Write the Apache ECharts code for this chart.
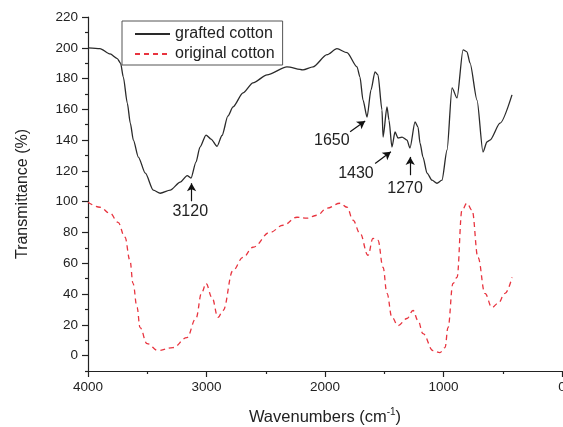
<!DOCTYPE html>
<html>
<head>
<meta charset="utf-8">
<script src="https://cdn.jsdelivr.net/npm/echarts@6/dist/echarts.min.js"></script>
<style>
html,body{margin:0;padding:0;background:#fff;}
#chart{width:563px;height:427px;}
</style>
</head>
<body>
<div id="chart"></div>
<script>
// ---- data ----
var seriesNames = ['grafted cotton', 'original cotton'];

var graftedWn = [4000,3899,3814,3753,3725,3702,3668,3643,3617,3575,3516,3449,3390,3306,3222,3163,3131,3089,3055,3004,2962,2911,2869,2819,2776,2692,2608,2489,2321,2186,2101,1983,1899,1814,1730,1705,1679,1645,1612,1578,1553,1519,1510,1477,1460,1435,1409,1384,1350,1308,1283,1240,1215,1198,1173,1139,1097,1055,1013,970,928,886,835,802,776,717,667,633,608,523,422];
var graftedT  = [200,199.5,196,193,190,181,164,151,140,129,118.5,107.5,105.5,107.5,112.7,117,115.3,125.7,135.5,143.3,140.7,136,143,155.7,161.6,170.7,177.2,182.4,187.6,185.7,187.6,195.5,199.4,196.8,187.6,181,166,155,172.6,184.4,182.4,159.6,142,161.6,153,135.5,145.3,141.4,142,140,134.9,151.8,148.5,138,129,118.6,114,112,114,133.6,174,167.4,198.7,197.4,190,166,132.3,138.8,140,151,169.4];

var originalWn = [4000,3899,3814,3747,3688,3646,3620,3586,3561,3502,3409,3283,3165,3090,3040,3004,2954,2903,2861,2776,2692,2608,2464,2354,2236,2152,2067,1983,1873,1814,1764,1705,1637,1595,1553,1510,1477,1435,1384,1308,1257,1215,1173,1089,1030,987,962,920,886,844,802,759,709,650,591,540,481,422];
var originalT  = [99.7,96.4,92.5,86.6,76.9,61.9,46.9,31.3,18.2,7.8,3.3,5.2,11.7,24,41,46.9,37.8,24.8,29.3,55.4,63.8,70.4,80.1,84.7,89.9,89.3,91.2,95.8,99,96.4,88,79.5,65.2,76.2,74.9,57.3,40.4,24.8,19.5,24.1,29.3,22.8,14.3,3.3,2,5.2,18.2,46.9,50.8,94.5,99,94.5,63.8,40.4,31.3,33.9,40.4,50.8];

var yMajorTicks = [0,20,40,60,80,100,120,140,160,180,200,220];
var yMinorTicks = [-10,10,30,50,70,90,110,130,150,170,190,210];

// annotations: label, label position [wn, T], arrow from [wn, T] to [wn, T]
var annLabels = ['3120','1650','1430','1270'];
var annLabelPos = [[3137,93.7],[1942,140],[1739,118.3],[1324,108.5]];
var annArrowFrom = [[3126,100.3],[1788,145.4],[1577,124.8],[1281,117.2]];
var annArrowTo   = [[3126,112],[1661,152.5],[1444,132.4],[1281,129.1]];

// ---- build ----
function zip(a,b){var r=[];for(var i=0;i<a.length;i++)r.push([a[i],b[i]]);return r;}
var FONT = '"Liberation Sans", Arial, sans-serif';
var TXT = '#222';
var AX = '#222';

var arrowData = annArrowFrom.map(function(f,i){return [{coord:f},{coord:annArrowTo[i]}];});
var labelData = annLabels.map(function(l,i){return {name:l, coord:annLabelPos[i]};});

var gridBox = {left:88,right:1,top:17,bottom:56,containLabel:false,outerBoundsMode:'none'};

var chart = echarts.init(document.getElementById('chart'), null, {renderer:'canvas'});
chart.setOption({
  animation:false,
  backgroundColor:'#fff',
  textStyle:{fontFamily:FONT},
  grid:[Object.assign({},gridBox), Object.assign({},gridBox)],
  legend:{
    left:122, top:21, orient:'vertical',
    borderColor:'#555', borderWidth:1, borderRadius:0,
    padding:[5,8,3,12], itemGap:4, itemWidth:35, itemHeight:14,
    itemStyle:{opacity:0},
    textStyle:{fontSize:16,color:TXT,fontFamily:FONT},
    data:seriesNames
  },
  xAxis:[{
    gridIndex:0, type:'value', inverse:true, min:0, max:4000, interval:1000,
    axisLine:{show:true,onZero:false,lineStyle:{color:AX,width:1.2}},
    axisTick:{show:true,inside:false,length:6,lineStyle:{color:AX,width:1.2}},
    minorTick:{show:true,splitNumber:2,length:3,lineStyle:{color:AX,width:1.2}},
    splitLine:{show:false},
    axisLabel:{fontSize:13.5,color:TXT,margin:9,fontFamily:FONT,showMinLabel:true,showMaxLabel:true,
      formatter:function(v){return String(v);}},
    name:'Wavenumbers (cm{sup|-1})',
    nameLocation:'middle', nameGap:36,
    nameTextStyle:{fontSize:16.5,color:TXT,fontFamily:FONT,lineHeight:20,
      rich:{sup:{fontSize:10,lineHeight:10,verticalAlign:'top',color:TXT,fontFamily:FONT}}}
  },{
    gridIndex:1, type:'value', inverse:true, min:0, max:4000, show:false,
    axisLine:{onZero:false}
  }],
  yAxis:[{
    gridIndex:0, type:'value', min:-10, max:220, position:'left',
    axisLine:{show:true,onZero:false,lineStyle:{color:AX,width:1.2}},
    axisTick:{show:true,inside:false,length:6,customValues:yMajorTicks,lineStyle:{color:AX,width:1.2}},
    splitLine:{show:false},
    axisLabel:{fontSize:13.5,color:TXT,margin:10,fontFamily:FONT,customValues:yMajorTicks},
    name:'Transmittance (%)', nameLocation:'middle', nameGap:57,
    nameTextStyle:{fontSize:16,color:TXT,fontFamily:FONT}
  },{
    gridIndex:1, type:'value', min:-10, max:220, position:'left',
    axisLine:{show:false,onZero:false},
    axisTick:{show:true,inside:false,length:3,customValues:yMinorTicks,lineStyle:{color:AX,width:1.2}},
    splitLine:{show:false},
    axisLabel:{show:false}
  }],
  series:[{
    name:seriesNames[0], type:'line', xAxisIndex:0, yAxisIndex:0, data:zip(graftedWn,graftedT),
    symbol:'none', smooth:0.25, smoothMonotone:'x',
    lineStyle:{color:'#2a2a2a',width:1.3},
    itemStyle:{color:'#2a2a2a'},
    markLine:{
      silent:true, symbol:['none','arrow'], symbolSize:[7,8], precision:1,
      lineStyle:{color:'#111',width:1.2,type:'solid'},
      label:{show:false}, emphasis:{disabled:true},
      data:arrowData
    },
    markPoint:{
      silent:true, symbol:'circle', symbolSize:0,
      label:{show:true,position:'inside',formatter:'{b}',fontSize:16,color:TXT,fontFamily:FONT},
      itemStyle:{color:'transparent'},
      data:labelData
    }
  },{
    name:seriesNames[1], type:'line', xAxisIndex:0, yAxisIndex:0, data:zip(originalWn,originalT),
    symbol:'none', smooth:0.4, smoothMonotone:'x',
    lineStyle:{color:'#e8343f',width:1.3,type:[5,4]},
    itemStyle:{color:'#e8343f'}
  }]
});
</script>
</body>
</html>
